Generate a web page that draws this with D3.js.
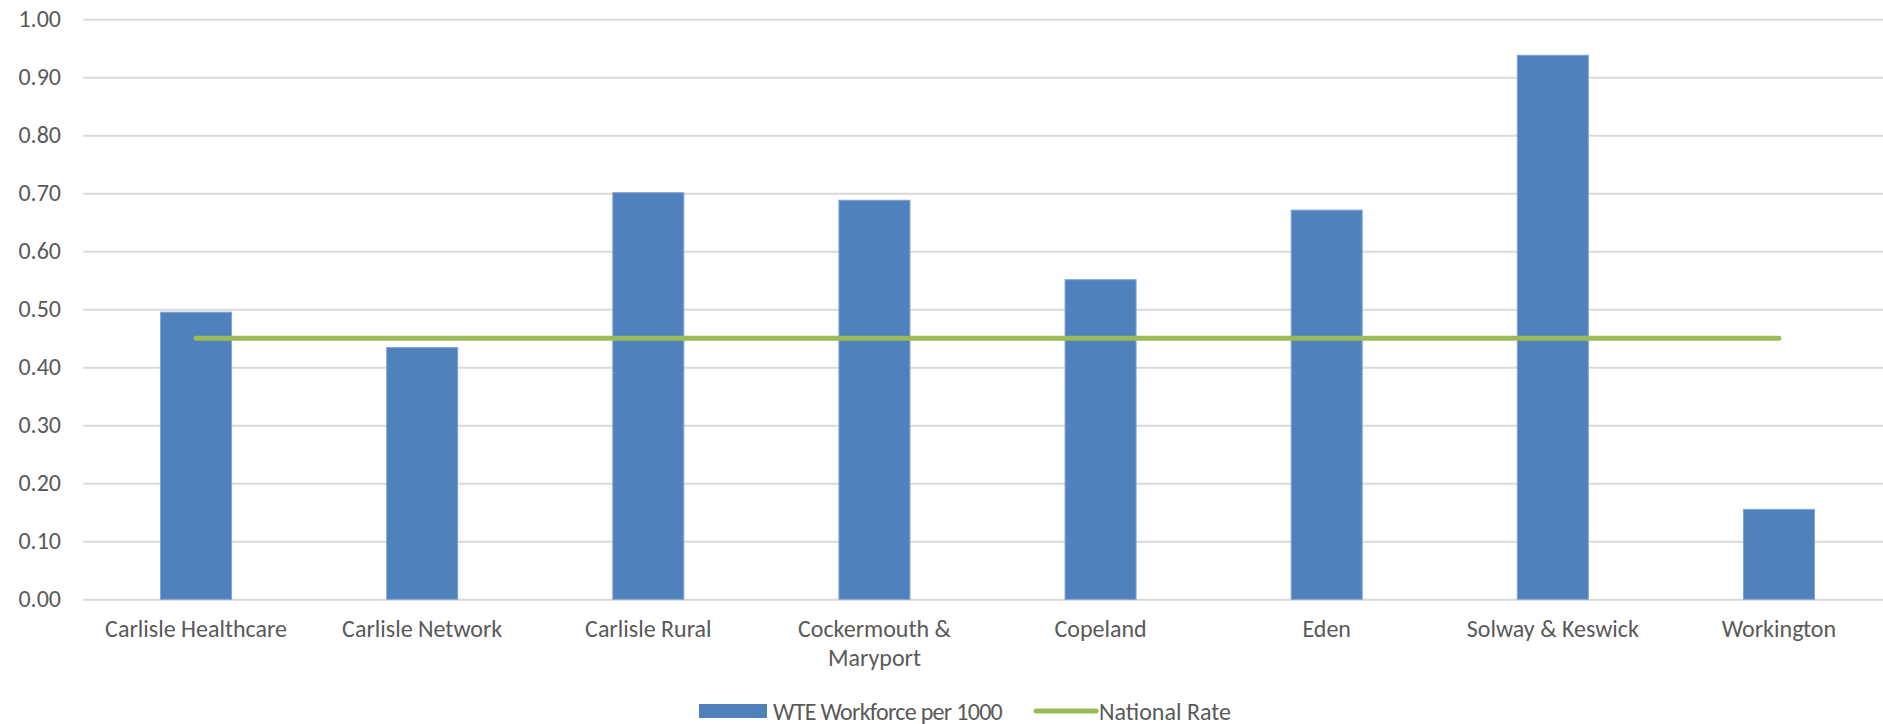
<!DOCTYPE html>
<html>
<head>
<meta charset="utf-8">
<script src="https://cdn.jsdelivr.net/npm/d3@7/dist/d3.min.js"></script>
<style>
  html, body { margin: 0; padding: 0; background: #fff; }
  svg { display: block; }
  text { font-family: Carlito, Calibri, Lato, "Open Sans", sans-serif; fill: #595959; }
</style>
</head>
<body>
<svg id="chart" width="1883" height="724"></svg>
<script>
// Practices and their whole-time-equivalent workforce per 1000 patients
const categories = [
  "Carlisle Healthcare", "Carlisle Network", "Carlisle Rural",
  "Cockermouth & Maryport", "Copeland", "Eden", "Solway & Keswick", "Workington"
];
const wteValues = [0.495, 0.434, 0.701, 0.688, 0.551, 0.671, 0.938, 0.155];
const nationalRate = [0.45, 0.45, 0.45, 0.45, 0.45, 0.45, 0.45, 0.45];
const yTicks = [0, 0.1, 0.2, 0.3, 0.4, 0.5, 0.6, 0.7, 0.8, 0.9, 1.0];
const seriesNames = ["WTE Workforce per 1000", "National Rate"];

const BLUE = "#4F81BD", GREEN = "#9BBB59", GRID = "#D9D9D9";
const FONT = 24;

const svg = d3.select("#chart");
const plot = { left: 83, right: 1892, top: 19.3, bottom: 599.3 };

const y = d3.scaleLinear().domain([0, 1]).range([plot.bottom, plot.top]);
const x = d3.scaleBand().domain(categories)
  .range([plot.left, plot.right])
  .paddingInner(0.686).paddingOuter(0.343);
const cx = d => x(d) + x.bandwidth() / 2;

// Horizontal gridlines and value labels
const yAxis = d3.axisLeft(y).tickValues(yTicks).tickFormat(d3.format(".2f"))
  .tickSize(-(plot.right - plot.left)).tickPadding(22);
const gy = svg.append("g").attr("transform", `translate(${plot.left},0)`).call(yAxis);
gy.select(".domain").remove();
gy.selectAll(".tick line").attr("stroke", GRID).attr("stroke-width", 2);
gy.selectAll(".tick text").attr("font-size", FONT + "px").attr("fill", "#595959")
  .style("font-family", null);

// Bars
svg.append("g").selectAll("rect").data(categories).join("rect")
  .attr("x", d => x(d))
  .attr("y", (d, i) => y(wteValues[i]))
  .attr("width", x.bandwidth())
  .attr("height", (d, i) => y(0) - y(wteValues[i]))
  .attr("fill", BLUE)
  .attr("stroke", "#7FA3D1").attr("stroke-width", 1);

// National rate line
const line = d3.line().x(d => cx(d[0])).y(d => y(d[1]));
svg.append("path")
  .datum(categories.map((c, i) => [c, nationalRate[i]]))
  .attr("d", line)
  .attr("fill", "none").attr("stroke", GREEN).attr("stroke-width", 5)
  .attr("stroke-linecap", "round");

// Category labels (long names wrap onto two lines)
const wrapped = { "Cockermouth & Maryport": ["Cockermouth &", "Maryport"] };
const xl = svg.append("g").selectAll("text").data(categories).join("text")
  .attr("x", d => cx(d)).attr("y", 637)
  .attr("text-anchor", "middle").attr("font-size", FONT + "px");
xl.each(function(d) {
  const lines = wrapped[d] || [d];
  d3.select(this).selectAll("tspan").data(lines).join("tspan")
    .attr("x", cx(d)).attr("dy", (l, i) => i === 0 ? 0 : 29).text(l => l);
});

// Legend
const legend = svg.append("g");
const legY = 711;
let lx = 699;
legend.append("rect").attr("x", lx).attr("y", legY - 7).attr("width", 68).attr("height", 14).attr("fill", BLUE);
lx += 68 + 6;
const t1 = legend.append("text").attr("x", lx).attr("y", legY).attr("dominant-baseline", "central")
  .attr("font-size", FONT + "px").attr("letter-spacing", "-0.7px").text(seriesNames[0]);
lx += t1.node().getComputedTextLength() + 34;
legend.append("line").attr("x1", lx).attr("x2", lx + 60).attr("y1", legY).attr("y2", legY)
  .attr("stroke", GREEN).attr("stroke-width", 5).attr("stroke-linecap", "round");
lx += 63;
legend.append("text").attr("x", lx).attr("y", legY).attr("dominant-baseline", "central")
  .attr("font-size", FONT + "px").text(seriesNames[1]);
</script>
</body>
</html>
